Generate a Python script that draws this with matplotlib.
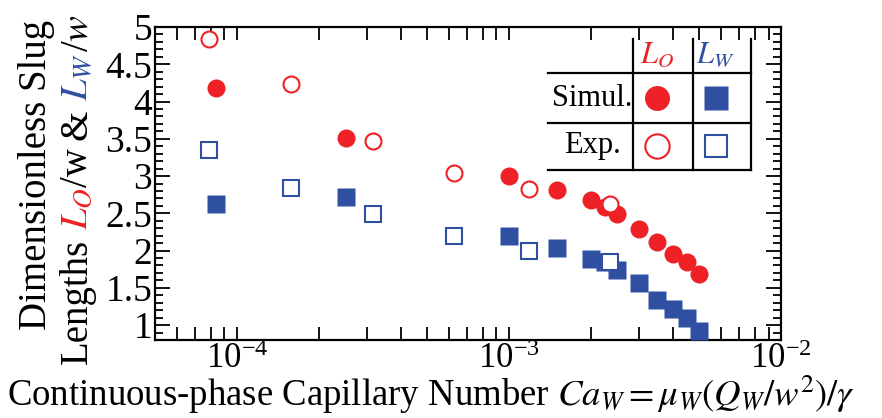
import matplotlib
matplotlib.use("Agg")
import matplotlib.pyplot as plt
from matplotlib.ticker import LogLocator, MultipleLocator, FuncFormatter, NullFormatter

# ---------------- data ----------------
sim_ca = [8.4e-5, 2.52e-4, 1.0e-3, 1.5e-3, 2.0e-3, 2.25e-3, 2.5e-3, 3.0e-3, 3.5e-3, 4.0e-3, 4.5e-3, 5.0e-3]
sim_LO = [4.18, 3.51, 3.00, 2.81, 2.68, 2.59, 2.49, 2.29, 2.11, 1.95, 1.84, 1.68]
sim_LW = [2.62, 2.72, 2.20, 2.04, 1.89, 1.84, 1.74, 1.56, 1.34, 1.21, 1.09, 0.92]

exp_ca = [7.9e-5, 1.58e-4, 3.16e-4, 6.3e-4, 1.18e-3, 2.36e-3]
exp_LO = [4.84, 4.24, 3.47, 3.04, 2.83, 2.62]
exp_LW = [3.35, 2.84, 2.49, 2.20, 2.00, 1.84]

yticks = [1, 1.5, 2, 2.5, 3, 3.5, 4, 4.5, 5]
xticks = [1e-4, 1e-3, 1e-2]

RED = "#EE2226"
BLUE = "#2F4FA0"

plt.rcParams['font.family'] = ['Liberation Serif', 'DejaVu Serif']
plt.rcParams['mathtext.fontset'] = 'stix'
plt.rcParams['axes.unicode_minus'] = False

W, H = 882, 418
fig = plt.figure(figsize=(W / 100, H / 100), dpi=100)

def fx(px):
    return px / W

def fy(py):
    return 1 - py / H

ax = fig.add_axes([fx(155), fy(340), fx(781) - fx(155), fy(27) - fy(340)])
ax.set_xscale('log')
ax.set_xlim(5e-5, 1e-2)
ax.set_ylim(0.8, 5.0)

ax.plot(sim_ca, sim_LO, 'o', ms=13, color=RED, mec='none', clip_on=False, zorder=3)
ax.plot(sim_ca, sim_LW, 's', ms=12.3, color=BLUE, mec='none', clip_on=False, zorder=3)
ax.plot(exp_ca, exp_LO, 'o', ms=11.5, mfc='white', mec=RED, mew=1.5, clip_on=False, zorder=4)
ax.plot(exp_ca, exp_LW, 's', ms=11.3, mfc='white', mec=BLUE, mew=1.5, clip_on=False, zorder=4)

ax.set_xticks(xticks)
ax.xaxis.set_minor_locator(LogLocator(base=10, subs=range(2, 10), numticks=20))
ax.xaxis.set_minor_formatter(NullFormatter())
ax.set_yticks(yticks)
ax.yaxis.set_minor_locator(MultipleLocator(0.1))
ax.yaxis.set_major_formatter(FuncFormatter(lambda v, p: '%g' % v))

for s in ax.spines.values():
    s.set_linewidth(1.6)
ax.tick_params(which='both', direction='in', top=True, right=True, width=1.3)
ax.tick_params(axis='y', labelsize=27)
ax.tick_params(axis='x', which='both', length=9.5, pad=2, labelsize=25)
ax.tick_params(axis='y', which='major', length=10.5, pad=2)
ax.tick_params(axis='y', which='minor', length=5.5)
for lab in ax.get_xticklabels() + ax.get_yticklabels():
    lab.set_fontfamily('Liberation Serif')

# ---------------- table legend ----------------
def axf(px, py):
    return (px - 155) / 626, (340 - py) / 313

lkw = dict(color='black', lw=1.6, transform=ax.transAxes, clip_on=False, zorder=5)
for py in [73.3, 123.3, 170]:
    (x0, y0), (x1, _) = axf(548, py), axf(750.7, py)
    ax.plot([x0, x1], [y0, y0], **lkw)
for px in [633.3, 693.3, 750.7]:
    (x0, y0), (_, y1) = axf(px, 39.3), axf(px, 170)
    ax.plot([x0, x0], [y0, y1], **lkw)

hx, hy = axf(656.7, 55)
ax.text(hx, hy, r'$L_O$', color=RED, fontsize=22, ha='center', va='center', transform=ax.transAxes)
hx, hy = axf(715, 55)
ax.text(hx, hy, r'$L_W$', color=BLUE, fontsize=22, ha='center', va='center', transform=ax.transAxes)
tx, ty = axf(592, 98)
ax.text(tx, ty, 'Simul.', fontsize=22, ha='center', va='center', transform=ax.transAxes)
tx, ty = axf(592, 145)
ax.text(tx, ty, 'Exp.', fontsize=22, ha='center', va='center', transform=ax.transAxes)

cx, r1 = axf(656.7, 98.3)
sx, r2 = axf(715.7, 146)
ax.plot([cx], [r1], 'o', ms=18, color=RED, mec='none', transform=ax.transAxes, clip_on=False, zorder=6)
ax.plot([sx], [r1], 's', ms=17.5, color=BLUE, mec='none', transform=ax.transAxes, clip_on=False, zorder=6)
ax.plot([cx], [r2], 'o', ms=17.5, mfc='white', mec=RED, mew=1.5, transform=ax.transAxes, clip_on=False, zorder=6)
ax.plot([sx], [r2], 's', ms=16.5, mfc='white', mec=BLUE, mew=1.5, transform=ax.transAxes, clip_on=False, zorder=6)

# ---------------- axis labels ----------------
fig.text(fx(7), fy(406), r'Continuous-phase Capillary Number $Ca_W = \mu_W(Q_W/w^2)/\gamma$',
         fontsize=26.5, ha='left', va='baseline')

YL = 28
fig.text(fx(46), fy(175), 'Dimensionless Slug', fontsize=YL, rotation=90,
         rotation_mode='anchor', ha='center', va='baseline')

pieces = [('Lengths', 'black'), (' ', None), (r'$L_O$', RED), ('/w', 'black'), (' ', None),
          ('&', 'black'), (' ', None), (r'$L_W$', BLUE), (r'/$w$', 'black')]
texts = []
for s, c in pieces:
    if c is None:
        texts.append(None)
        continue
    t = fig.text(0, 0, s, color=c, fontsize=YL, rotation=90, rotation_mode='anchor',
                 ha='left', va='baseline')
    texts.append(t)
fig.canvas.draw()
rend = fig.canvas.get_renderer()
space = 0.22 * YL * 100 / 72
lens = [space if t is None else t.get_window_extent(rend).height for t in texts]
total = sum(lens)
yc = 189
start = H - yc - total / 2  # pixel from bottom
pos = start
for t, L in zip(texts, lens):
    if t is not None:
        t.set_position((fx(87), pos / H))
    pos += L

fig.savefig('out.png', dpi=100)
